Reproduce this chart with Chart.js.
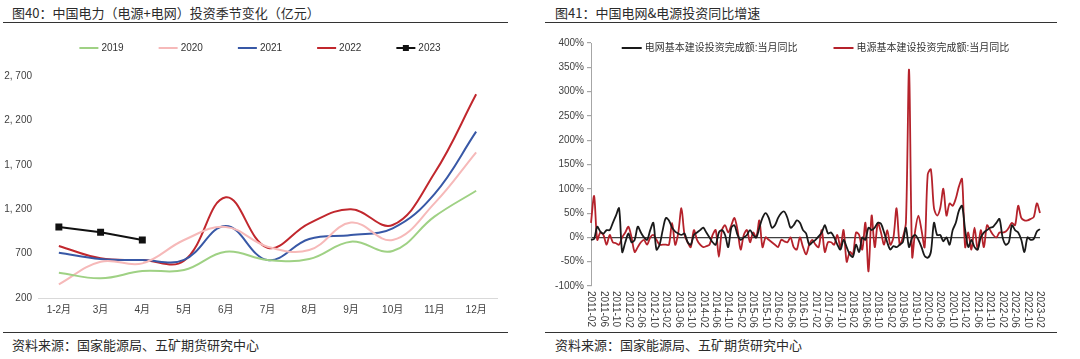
<!DOCTYPE html>
<html>
<head>
<meta charset="utf-8">
<script src="https://cdn.jsdelivr.net/npm/chart.js@4.4.1/dist/chart.umd.min.js"></script>
<style>
  body { margin: 0; background: #fff; width: 1080px; height: 359px; position: relative; overflow: hidden;
         font-family: "Liberation Sans", "Noto Sans CJK SC", sans-serif; }
  .title { position: absolute; top: 3px; font: 13px "Noto Sans CJK SC", sans-serif; color: #2b2b2b; }
  .foot { position: absolute; top: 335px; font: 13px "Noto Sans CJK SC", sans-serif; color: #2b2b2b; }
  .rule { position: absolute; height: 0; border-top: 1.5px solid #333; }
  .box { position: absolute; top: 24px; height: 306px; }
</style>
</head>
<body>
<div class="title" style="left:12px">图40：中国电力（电源+电网）投资季节变化（亿元）</div>
<div class="rule" style="left:3px; width:505px; top:22px"></div>
<div class="box" style="left:0; width:520px"><canvas id="seasonChart"></canvas></div>
<div class="rule" style="left:3px; width:505px; top:332px"></div>
<div class="foot" style="left:12px">资料来源：国家能源局、五矿期货研究中心</div>

<div class="title" style="left:555px">图41：中国电网&amp;电源投资同比增速</div>
<div class="rule" style="left:545px; width:512px; top:22px"></div>
<div class="box" style="left:540px; width:540px"><canvas id="yoyChart"></canvas></div>
<div class="rule" style="left:545px; width:512px; top:332px"></div>
<div class="foot" style="left:555px">资料来源：国家能源局、五矿期货研究中心</div>

<script>
// ---- figure 40: monthly investment by year (亿元)
const seasonLabels = ["1-2月", "3月", "4月", "5月", "6月", "7月", "8月", "9月", "10月", "11月", "12月"];
const y2019 = [485, 422, 504, 515, 721, 628, 639, 834, 729, 1116, 1408];
const y2020 = [354, 609, 590, 853, 1000, 778, 740, 1049, 853, 1266, 1841];
const y2021 = [710, 639, 628, 630, 1011, 628, 864, 909, 985, 1370, 2073];
const y2022 = [786, 647, 628, 620, 1334, 766, 1041, 1199, 1022, 1604, 2494];
const y2023 = [1000, 940, 853];
const seasonTicks = [200, 700, 1200, 1700, 2200, 2700];

// ---- figure 41: monthly yoy (%)
const months = [];
for (let y = 2011; y <= 2023; y++) {
  for (let m = 1; m <= 12; m++) {
    if ((y === 2011 && m < 2) || (y === 2023 && m > 2)) continue;
    months.push(y + "-" + String(m).padStart(2, "0"));
  }
}
const gridYoy = [
  -5, -3, 22, 12, 8, 15, 15, 30, 45, 60, -30,
  -10, 8, -10, -5, 22, 10, 0, -5, 15, 30, -25, -15,
  15, 40, 35, 20, 12, 8, 5, 8, -10, -15, 5, 10,
  15, 20, 10, 0, -10, -15, 10, 15, 5, -20, 20, 25,
  5, -5, 0, 5, 15, 5, 0, 20, 40, 50, 40, 20,
  25, 40, 50, 53, 40, 20, 25, 35, 30, 15, 8, -15,
  -10, -5, 2, 10, 25, 8, 10, 0, -15, -25, -5, -20,
  -35, -40, -15, -30, 0, -5, 20, 15, 20, 30, 28, 10,
  -10, -25, -18, -20, -15, -10, 20, -20, 0, 5, -5, -20,
  -38, -42, -30, 30, 5, 5, -8, 0, -15, 15, 30, 55,
  65, 15, -20, -5, -20, -25, 0, 10, 15, 20, 22, 30,
  38, 0, -15, -10, 25, 15, 10, -5, -30, 0, -5, -3,
  12, 17
];
const sourceYoy = [
  30, 85, -5, 10, 5, -15, 5, -10, -12, -15, 0,
  10, 22, 0, -30, -20, -10, -5, -15, 0, 5, -5, -15,
  -15, -15, -15, 30, -15, 10, 60, 5, -10, -20, 15, -5,
  -15, -20, -18, -15, 5, 15, -40, 15, 25, 10, 25, 40,
  15, -25, 5, 15, -10, 10, 0, 35, -20, 0, -5, -10,
  -15, -20, -5, -8, -10, 0, -20, -25, 0, -20, -35, -15,
  -5, -15, -20, 15, -30, -10, -10, -15, 5, -20, 15, -50,
  -30, -35, 10, 5, -25, 30, -70, 45, -20, 30, 10, -15,
  15, -15, 0, 60, -15, 0, 30, 345, -40, 15, 45, 15,
  -20, 130, 140, 60, 45, 60, 100, 45, 70, 65, 80, 105,
  120, -20, 10, -25, 20, -25, 15, -20, 25, 15, 5, 0,
  10, 10, 12, 20, 30, 25, 65, 40, 35, 35, 38, 42,
  70, 50
];

const fontFamily = "'Liberation Sans', 'Noto Sans CJK SC'";
const tickFont = { family: fontFamily, size: 10 };
const textColor = "#404040";

// small legend drawn at the top of each chart
function legendPlugin(y, gap, lineW, fontSize, overArea) {
  return {
    id: "topLegend",
    afterDraw(chart) {
      const ctx = chart.ctx;
      ctx.save();
      ctx.font = fontSize + "px " + fontFamily;
      ctx.textBaseline = "middle";
      const items = chart.data.datasets.map(ds => ({ ds, w: lineW + 3 + ctx.measureText(ds.label).width }));
      const total = items.reduce((s, it) => s + it.w, 0) + gap * (items.length - 1);
      const mid = overArea ? (chart.chartArea.left + chart.chartArea.right) / 2 : chart.width / 2;
      let x = mid - total / 2;
      items.forEach(it => {
        ctx.strokeStyle = it.ds.borderColor;
        ctx.lineWidth = 2;
        ctx.beginPath();
        ctx.moveTo(x, y);
        ctx.lineTo(x + lineW, y);
        ctx.stroke();
        if (it.ds.pointRadius) {
          ctx.fillStyle = it.ds.borderColor;
          ctx.fillRect(x + lineW / 2 - 3, y - 3, 6, 6);
        }
        ctx.fillStyle = "#333";
        ctx.fillText(it.ds.label, x + lineW + 3, y);
        x += it.w + gap;
      });
      ctx.restore();
    }
  };
}

// vertical month labels, read top to bottom
const monthLabelPlugin = {
  id: "monthLabels",
  afterDraw(chart) {
    const ctx = chart.ctx, xs = chart.scales.x;
    ctx.save();
    ctx.font = "10px " + fontFamily;
    ctx.fillStyle = textColor;
    ctx.textBaseline = "middle";
    ctx.textAlign = "left";
    months.forEach((m, i) => {
      if (i % 4) return;
      ctx.save();
      ctx.translate(xs.getPixelForValue(i), chart.chartArea.bottom + 5);
      ctx.rotate(Math.PI / 2);
      ctx.fillText(m, 0, 0);
      ctx.restore();
    });
    ctx.restore();
  }
};

function series(label, data, color, extra) {
  return Object.assign({ label, data, borderColor: color, backgroundColor: color,
    borderWidth: 2, pointRadius: 0, tension: 0.4, fill: false }, extra || {});
}

new Chart(document.getElementById("seasonChart"), {
  type: "line",
  data: {
    labels: seasonLabels,
    datasets: [
      series("2019", y2019, "#9fd184"),
      series("2020", y2020, "#f6b9b9"),
      series("2021", y2021, "#3858a6"),
      series("2022", y2022, "#c1272d"),
      series("2023", y2023, "#111111", { pointRadius: 3.5, pointStyle: "rect", tension: 0 })
    ]
  },
  options: {
    responsive: true,
    maintainAspectRatio: false,
    animation: false,
    layout: { padding: { left: 0, right: 23, top: 52, bottom: 0 } },
    plugins: { legend: { display: false }, tooltip: { enabled: false } },
    scales: {
      x: {
        offset: true,
        grid: { display: false, drawTicks: false },
        border: { display: true, color: "#d9d9d9", width: 1 },
        ticks: { font: tickFont, color: textColor, padding: 6, maxRotation: 0 },
        afterFit(s) { s.height = 32; }
      },
      y: {
        min: 200, max: 2700,
        afterBuildTicks(s) { s.ticks = seasonTicks.map(v => ({ value: v })); },
        grid: { display: false, drawTicks: false },
        border: { display: false },
        ticks: {
          font: tickFont, color: textColor, padding: 6,
          callback: v => v >= 1000 ? Math.floor(v / 1000) + ", " + String(v % 1000).padStart(3, "0") : String(v)
        },
        afterFit(s) { s.width = 38; }
      }
    }
  },
  plugins: [legendPlugin(24, 35, 19, 10, false)]
});

new Chart(document.getElementById("yoyChart"), {
  type: "line",
  data: {
    labels: months,
    datasets: [
      series("电网基本建设投资完成额:当月同比", gridYoy, "#1a1a1a", { borderWidth: 1.8, tension: 0.3 }),
      series("电源基本建设投资完成额:当月同比", sourceYoy, "#b5222b", { borderWidth: 1.8, tension: 0.3 })
    ]
  },
  options: {
    responsive: true,
    maintainAspectRatio: false,
    animation: false,
    layout: { padding: { left: 0, right: 40, top: 19, bottom: 0 } },
    plugins: { legend: { display: false }, tooltip: { enabled: false } },
    scales: {
      x: {
        offset: false,
        grid: { display: false },
        border: { display: false },
        ticks: { display: false },
        afterFit(s) { s.height = 44; }
      },
      y: {
        min: -100, max: 400,
        ticks: { stepSize: 50, font: tickFont, color: textColor, padding: 3, callback: v => v + "%" },
        grid: {
          color: c => c.tick && c.tick.value === 0 ? "#404040" : "transparent",
          tickColor: "#a6a6a6", tickLength: 4, lineWidth: 1.2
        },
        border: { display: true, color: "#a6a6a6", width: 1 },
        afterFit(s) { s.width = 51; }
      }
    }
  },
  plugins: [legendPlugin(24, 36, 20, 10, true), monthLabelPlugin]
});
</script>
</body>
</html>
